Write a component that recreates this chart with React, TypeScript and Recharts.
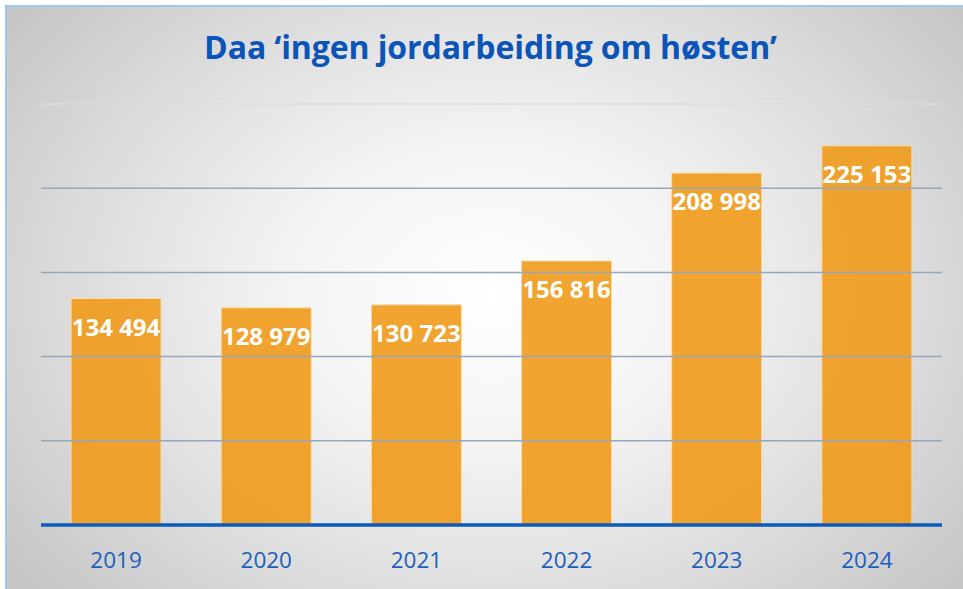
import { BarChart, Bar, XAxis, YAxis, ReferenceLine, LabelList } from 'recharts';

const years = ['2019', '2020', '2021', '2022', '2023', '2024'];
const daa = [134494, 128979, 130723, 156816, 208998, 225153];
const gridValues = [50000, 100000, 150000, 200000, 250000];

const data = years.map((year, i) => ({ year, daa: daa[i] }));

const fmt = (v: number) => v.toLocaleString('en-US').replace(/,/g, ' ');

const FONT = '"Open Sans", "Noto Sans", sans-serif';

export default function App() {
  return (
    <div
      style={{
        position: 'absolute',
        left: 0,
        top: 0,
        width: 963,
        height: 589,
        overflow: 'hidden',
        background: '#ffffff',
      }}
    >
      <div
        style={{
          position: 'absolute',
          left: 5,
          top: 5,
          width: 970,
          height: 600,
          borderTop: '2px solid #9cc6f7',
          borderLeft: '2px solid #9cc6f7',
          background:
            'radial-gradient(ellipse 62% 75% at 50% 48%, #ffffff 0%, #f3f3f3 35%, #dcdcdc 70%, #c6c6c6 100%)',
        }}
      />
      <div
        style={{
          position: 'absolute',
          left: 0,
          top: 25,
          width: 981,
          textAlign: 'center',
          fontFamily: FONT,
          fontWeight: 700,
          fontSize: 32,
          lineHeight: 'normal',
          color: '#0b54b8',
          letterSpacing: -0.1,
        }}
      >
        Daa ‘ingen jordarbeiding om høsten’
      </div>
      <div style={{ position: 'absolute', left: 0, top: 0 }}>
        <BarChart
          width={963}
          height={589}
          data={data}
          margin={{ top: 104, right: 21, left: 41, bottom: 0 }}
          barCategoryGap="20%"
        >
          <YAxis hide domain={[0, 250000]} ticks={[0, ...gridValues]} />
          {gridValues.map((v) => (
            <ReferenceLine
              key={v}
              y={v}
              stroke={v === 250000 ? '#dcdce2' : '#97a6bb'}
              strokeWidth={1.5}
            />
          ))}
          <Bar
            dataKey="daa"
            fill="#f09a18"
            fillOpacity={0.9}
            stroke="#f9dcae"
            strokeWidth={1}
            isAnimationActive={false}
          >
            <LabelList
              dataKey="daa"
              position="insideTop"
              offset={20}
              formatter={(v: number) => fmt(v)}
              fill="#ffffff"
              style={{ fontFamily: FONT, fontWeight: 700, fontSize: 24 }}
            />
          </Bar>
          <XAxis
            dataKey="year"
            height={64}
            axisLine={{ stroke: '#0a5bbd', strokeWidth: 3.5 }}
            tickLine={false}
            tickMargin={21}
            tick={{ fill: '#1a5fbf', fontSize: 22.5, fontFamily: FONT }}
          />
        </BarChart>
      </div>
    </div>
  );
}
